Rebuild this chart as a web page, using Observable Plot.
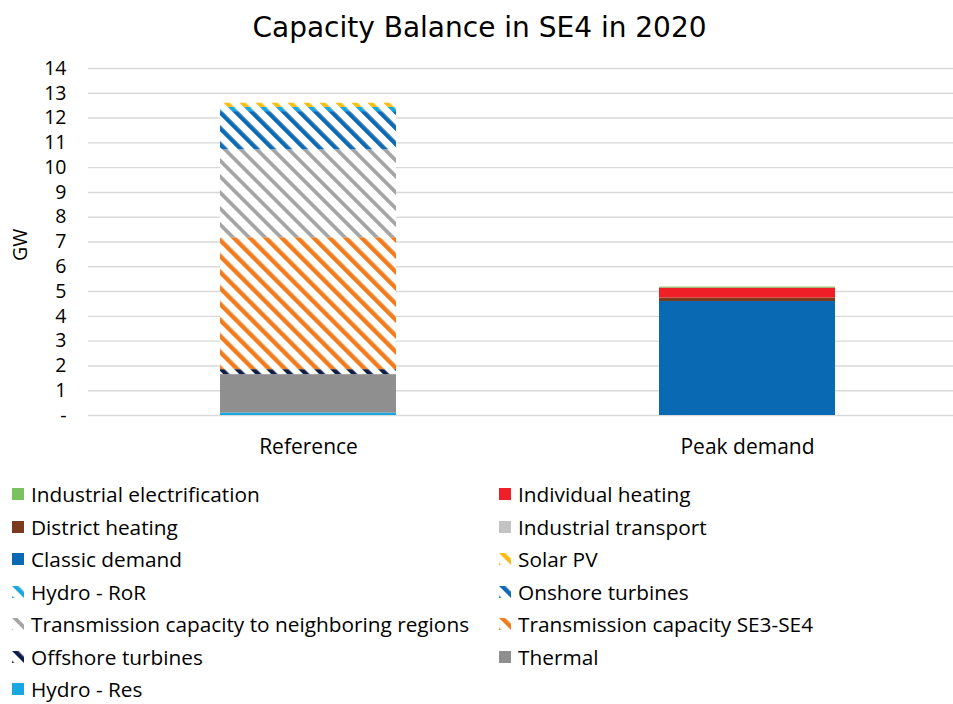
<!DOCTYPE html>
<html>
<head>
<meta charset="utf-8">
<script src="https://cdn.jsdelivr.net/npm/d3@7"></script>
<script src="https://cdn.jsdelivr.net/npm/@observablehq/plot@0.6"></script>
<style>
  html, body { margin: 0; padding: 0; background: #fff; }
  body { width: 953px; height: 704px; overflow: hidden; font-family: "Open Sans", Lato, sans-serif; color: #000; }
  #title { height: 55px; line-height: 55px; text-align: center; font-family: "DejaVu Sans", sans-serif; font-size: 28px; padding-left: 6px; }
  #chart { height: 410px; }
  #legend { margin-top: 13px; display: grid; grid-template-columns: 487px 466px; }
  .item { height: 32.5px; display: flex; align-items: center; font-size: 20.8px; line-height: 24px; white-space: nowrap; }
  .item svg { margin-left: 12px; margin-right: 7px; flex: none; }
</style>
</head>
<body>
<div id="title">Capacity Balance in SE4 in 2020</div>
<div id="chart"></div>
<div id="legend"></div>
<svg width="0" height="0" style="position:absolute">
  <defs id="defs"></defs>
</svg>
<script>
// ---- data ----
const categories = ["Reference", "Peak demand"];
// stacking order, bottom to top
const seriesNames = [
  "Hydro - Res",
  "Thermal",
  "Offshore turbines",
  "Transmission capacity SE3-SE4",
  "Transmission capacity to neighboring regions",
  "Onshore turbines",
  "Hydro - RoR",
  "Solar PV",
  "Classic demand",
  "Industrial transport",
  "District heating",
  "Individual heating",
  "Industrial electrification"
];
const referenceValues = [0.1, 1.55, 0.2, 5.32, 3.55, 1.54, 0.17, 0.17, 0, 0, 0, 0, 0];
const peakDemandValues = [0, 0, 0, 0, 0, 0, 0, 0, 4.6, 0, 0.14, 0.4, 0.04];
const seriesColors = ["#1aa7e0", "#8f8f8f", "#0c1e48", "#f07d1d", "#a5a5a5", "#0f6ab4", "#1aa7e0", "#fdbb12", "#0a69b3", "#c3c3c3", "#7b3a1e", "#ee1f26", "#7cc160"];
const seriesHatched = [false, false, true, true, true, true, true, true, false, false, false, false, false];
const yTicks = [0, 1, 2, 3, 4, 5, 6, 7, 8, 9, 10, 11, 12, 13, 14];
const legendOrder = [
  "Industrial electrification", "Individual heating",
  "District heating", "Industrial transport",
  "Classic demand", "Solar PV",
  "Hydro - RoR", "Onshore turbines",
  "Transmission capacity to neighboring regions", "Transmission capacity SE3-SE4",
  "Offshore turbines", "Thermal",
  "Hydro - Res"
];

// ---- hatch patterns ----
const defs = document.getElementById("defs");
const NS = "http://www.w3.org/2000/svg";
const fillOf = {};
seriesNames.forEach((name, i) => {
  if (!seriesHatched[i]) { fillOf[name] = seriesColors[i]; return; }
  const id = "hatch" + i;
  const p = document.createElementNS(NS, "pattern");
  p.setAttribute("id", id);
  p.setAttribute("patternUnits", "userSpaceOnUse");
  p.setAttribute("width", "11.3");
  p.setAttribute("height", "11.3");
  p.setAttribute("patternTransform", "rotate(-45)");
  const bg = document.createElementNS(NS, "rect");
  bg.setAttribute("width", "11.3"); bg.setAttribute("height", "11.3"); bg.setAttribute("fill", "#fff");
  const st = document.createElementNS(NS, "rect");
  st.setAttribute("x", "0"); st.setAttribute("y", "0");
  st.setAttribute("width", name.includes("neighboring") ? "3.8" : "4.4");
  st.setAttribute("height", "11.3");
  st.setAttribute("fill", seriesColors[i]);
  p.appendChild(bg); p.appendChild(st);
  defs.appendChild(p);
  fillOf[name] = `url(#${id})`;
});

// ---- table ----
const rows = [];
seriesNames.forEach((s, i) => {
  rows.push({category: categories[0], series: s, value: referenceValues[i]});
  rows.push({category: categories[1], series: s, value: peakDemandValues[i]});
});

const plot = Plot.plot({
  width: 953,
  height: 410,
  marginTop: 13,
  marginBottom: 50,
  marginLeft: 88,
  marginRight: 0,
  style: {fontFamily: "'Open Sans', Lato, sans-serif", color: "#000", background: "transparent"},
  x: {domain: categories, range: [88.5, 966.5], paddingInner: 0.6, paddingOuter: 0.3, label: null},
  y: {domain: [0, 14], label: null},
  color: {type: "identity"},
  marks: [
    Plot.gridY(yTicks, {stroke: "#d9d9d9", strokeOpacity: 1, strokeWidth: 1.4}),
    Plot.barY(rows, Plot.stackY({x: "category", y: "value", z: "series", fill: d => fillOf[d.series], order: null})),
    Plot.axisY(yTicks, {tickSize: 0, tickPadding: 22, fontSize: 19.5, tickFormat: d => d === 0 ? "-" : String(d), label: null}),
    Plot.axisX({tickSize: 0, tickPadding: 24, fontSize: 21, label: null}),
    Plot.text(["GW"], {frameAnchor: "left", dx: -68, dy: 19, rotate: -90, fontSize: 19.5, text: d => d})
  ]
});
document.getElementById("chart").appendChild(plot);

// ---- legend ----
const legend = document.getElementById("legend");
legendOrder.forEach((name, k) => {
  const i = seriesNames.indexOf(name);
  const div = document.createElement("div");
  div.className = "item";
  const sw = document.createElementNS(NS, "svg");
  sw.setAttribute("width", "12"); sw.setAttribute("height", "12");
  const r = document.createElementNS(NS, "rect");
  r.setAttribute("width", "12"); r.setAttribute("height", "12");
  r.setAttribute("fill", fillOf[name]);
  sw.appendChild(r);
  div.appendChild(sw);
  const span = document.createElement("span");
  span.textContent = name;
  div.appendChild(span);
  legend.appendChild(div);
});
</script>
</body>
</html>
